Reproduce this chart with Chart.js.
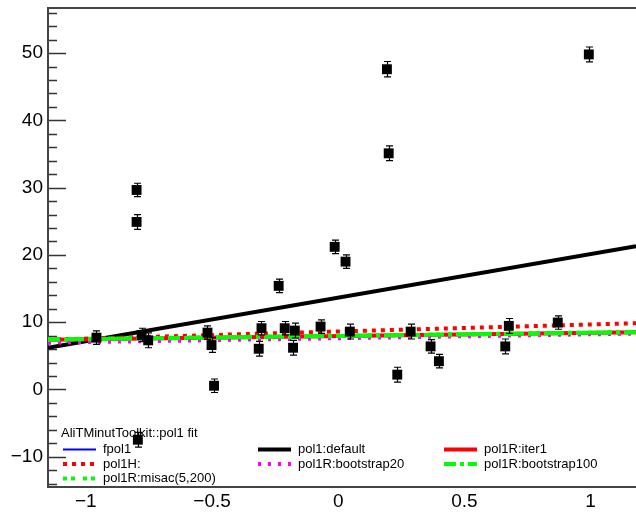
<!DOCTYPE html>
<html>
<head>
<meta charset="utf-8">
<script src="https://cdn.jsdelivr.net/npm/chart.js@4.4.0/dist/chart.umd.min.js"></script>
<style>
html, body { margin: 0; padding: 0; background: #fff; }
#wrap { width: 636px; height: 512px; }
</style>
</head>
<body>
<div id="wrap"><canvas id="grafico" width="636" height="512"></canvas></div>
<script>
// puntos medidos (x, y, error en y)
var puntosX = [-0.958, -0.799, -0.799, -0.794, -0.779, -0.753, -0.518, -0.502, -0.492, -0.315,
               -0.304, -0.236, -0.212, -0.179, -0.172, -0.070, -0.014, 0.029, 0.046, 0.193,
               0.200, 0.234, 0.287, 0.366, 0.399, 0.662, 0.676, 0.870, 0.993];
var puntosY = [7.7, 29.65, 24.9, -7.47, 8.1, 7.3, 8.45, 6.6, 0.55, 6.05,
               9.1, 15.4, 9.1, 6.2, 8.75, 9.35, 21.2, 19.0, 8.6, 47.6,
               35.1, 2.2, 8.6, 6.4, 4.2, 6.4, 9.45, 9.95, 49.8];
var errores = [1.0, 1.0, 1.1, 1.1, 1.0, 1.1, 1.0, 1.1, 1.0, 1.1,
               1.0, 1.0, 1.0, 1.1, 1.1, 1.0, 1.0, 1.0, 1.1, 1.15,
               1.1, 1.1, 1.1, 1.0, 1.0, 1.1, 1.1, 1.0, 1.1];

// extremos de las rectas de ajuste
var ajusteX = [-1.15, 1.18];
var fpol1 = [7.4, 8.5];
var pol1Default = [6.2, 21.3];
var pol1RIter1 = [7.4, 8.5];
var pol1H = [7.4, 9.85];
var pol1RBootstrap20 = [6.95, 8.3];
var pol1RBootstrap100 = [7.4, 8.5];
var pol1RMisac = [7.45, 8.55];

var ticksX = [-1, -0.5, 0, 0.5, 1];
var ticksY = [-10, 0, 10, 20, 30, 40, 50];
var minorY = [];
for (var v = -14; v <= 56; v += 2) { if (v % 10 != 0) minorY.push(v); }

var tituloLeyenda = 'AliTMinutToolkit::pol1 fit';

function recta(ys) {
    return ajusteX.map(function (x, i) { return { x: x, y: ys[i] }; });
}

function linea(label, ys, color, ancho, dash, orden) {
    return {
        type: 'line',
        label: label,
        data: recta(ys),
        borderColor: color,
        backgroundColor: color,
        borderWidth: ancho,
        borderDash: dash,
        pointRadius: 0,
        fill: false,
        order: orden
    };
}

var puntos = puntosX.map(function (x, i) { return { x: x, y: puntosY[i] }; });

var fuente = '"Liberation Sans", Arial, Helvetica, sans-serif';

function sinRelleno(scale) {
    scale.paddingTop = 0;
    scale.paddingBottom = 0;
    scale.paddingLeft = 0;
    scale.paddingRight = 0;
}

var marco = {
    id: 'marco',
    beforeDatasetsDraw: function (chart) {
        var c = chart.ctx, a = chart.chartArea;
        var sy = chart.scales.y;
        c.save();
        // leyenda
        c.fillStyle = '#fff';
        c.fillRect(a.left + 1, 424, a.right - a.left - 1, a.bottom - 424);
        c.fillStyle = '#000';
        c.font = '13px ' + fuente;
        c.textBaseline = 'middle';
        c.textAlign = 'left';
        c.fillText(tituloLeyenda, 61, 433);
        var colX = [63, 258, 444];
        var filaY = [449.5, 464, 478.5];
        var ordenLeyenda = [1, 2, 3, 4, 5, 6, 7];
        ordenLeyenda.forEach(function (idx, k) {
            var ds = chart.data.datasets[idx];
            var cx = colX[k % 3], cy = filaY[Math.floor(k / 3)];
            c.beginPath();
            c.strokeStyle = ds.borderColor;
            c.lineWidth = ds.borderWidth;
            c.setLineDash(ds.borderDash || []);
            c.moveTo(cx, cy);
            c.lineTo(cx + 33, cy);
            c.stroke();
            c.setLineDash([]);
            c.fillStyle = '#000';
            c.fillText(ds.label, cx + 40, cy);
        });
        // ticks del eje y, hacia dentro
        c.strokeStyle = '#333';
        c.lineWidth = 1.5;
        c.beginPath();
        ticksY.forEach(function (t) {
            var py = Math.round(sy.getPixelForValue(t)) + 0.5;
            c.moveTo(a.left, py); c.lineTo(a.left + 18, py);
        });
        minorY.forEach(function (t) {
            var py = Math.round(sy.getPixelForValue(t)) + 0.5;
            c.moveTo(a.left, py); c.lineTo(a.left + 9, py);
        });
        c.stroke();
        // marco
        c.strokeStyle = '#444';
        c.lineWidth = 2;
        c.beginPath();
        c.moveTo(a.right, a.top); c.lineTo(a.left, a.top);
        c.lineTo(a.left, a.bottom); c.lineTo(a.right, a.bottom);
        c.stroke();
        c.restore();
    },
    afterDatasetsDraw: function (chart) {
        var c = chart.ctx;
        var sx = chart.scales.x, sy = chart.scales.y;
        c.save();
        c.strokeStyle = '#000';
        c.lineWidth = 1.2;
        c.beginPath();
        puntosX.forEach(function (x, i) {
            var px = Math.round(sx.getPixelForValue(x)) + 0.5;
            var y1 = sy.getPixelForValue(puntosY[i] + errores[i]);
            var y2 = sy.getPixelForValue(puntosY[i] - errores[i]);
            c.moveTo(px, y1); c.lineTo(px, y2);
            c.moveTo(px - 3.5, y1); c.lineTo(px + 3.5, y1);
            c.moveTo(px - 3.5, y2); c.lineTo(px + 3.5, y2);
        });
        c.stroke();
        c.restore();
    }
};

const ctx = document.getElementById('grafico').getContext('2d');
const grafico = new Chart(ctx, {
    type: 'scatter',
    data: {
        datasets: [
            {
                label: 'datos',
                data: puntos,
                pointStyle: 'rect',
                pointRadius: 7,
                pointHoverRadius: 7,
                backgroundColor: '#000',
                borderColor: '#000',
                borderWidth: 0,
                order: 0
            },
            linea('fpol1', fpol1, '#0000ff', 2, [], 7),
            linea('pol1:default', pol1Default, '#000000', 4, [], 6),
            linea('pol1R:iter1', pol1RIter1, '#ff0000', 4, [], 5),
            linea('pol1H:', pol1H, '#ff0000', 4, [4, 5], 4),
            linea('pol1R:bootstrap20', pol1RBootstrap20, '#ff00ff', 4, [3, 7], 3),
            linea('pol1R:bootstrap100', pol1RBootstrap100, '#00ff00', 4, [12, 4, 4, 4], 2),
            linea('pol1R:misac(5,200)', pol1RMisac, '#00ff00', 4, [4, 4, 4, 8], 1)
        ]
    },
    options: {
        responsive: false,
        animation: false,
        devicePixelRatio: 1,
        layout: { autoPadding: false, padding: { top: 8, right: 0, bottom: 0, left: 0 } },
        plugins: {
            legend: { display: false },
            tooltip: { enabled: false }
        },
        scales: {
            x: {
                type: 'linear',
                min: -1.15,
                max: 1.18,
                grid: { display: false, drawTicks: false },
                border: { display: false },
                afterBuildTicks: function (scale) {
                    scale.ticks = ticksX.map(function (t) { return { value: t }; });
                },
                afterFit: function (scale) { scale.height = 25; sinRelleno(scale); },
                ticks: {
                    padding: 3,
                    color: '#000',
                    font: { family: fuente, size: 19 },
                    maxRotation: 0,
                    callback: function (v) { return String(v).replace('-', '\u2212'); }
                }
            },
            y: {
                type: 'linear',
                min: -14.5,
                max: 56.7,
                grid: { display: false, drawTicks: false },
                border: { display: false },
                afterBuildTicks: function (scale) {
                    scale.ticks = ticksY.map(function (t) { return { value: t }; });
                },
                afterFit: function (scale) { scale.width = 48; sinRelleno(scale); },
                ticks: {
                    padding: 5,
                    color: '#000',
                    font: { family: fuente, size: 19 },
                    callback: function (v) { return String(v).replace('-', '\u2212'); }
                }
            }
        }
    },
    plugins: [marco]
});
</script>
</body>
</html>
